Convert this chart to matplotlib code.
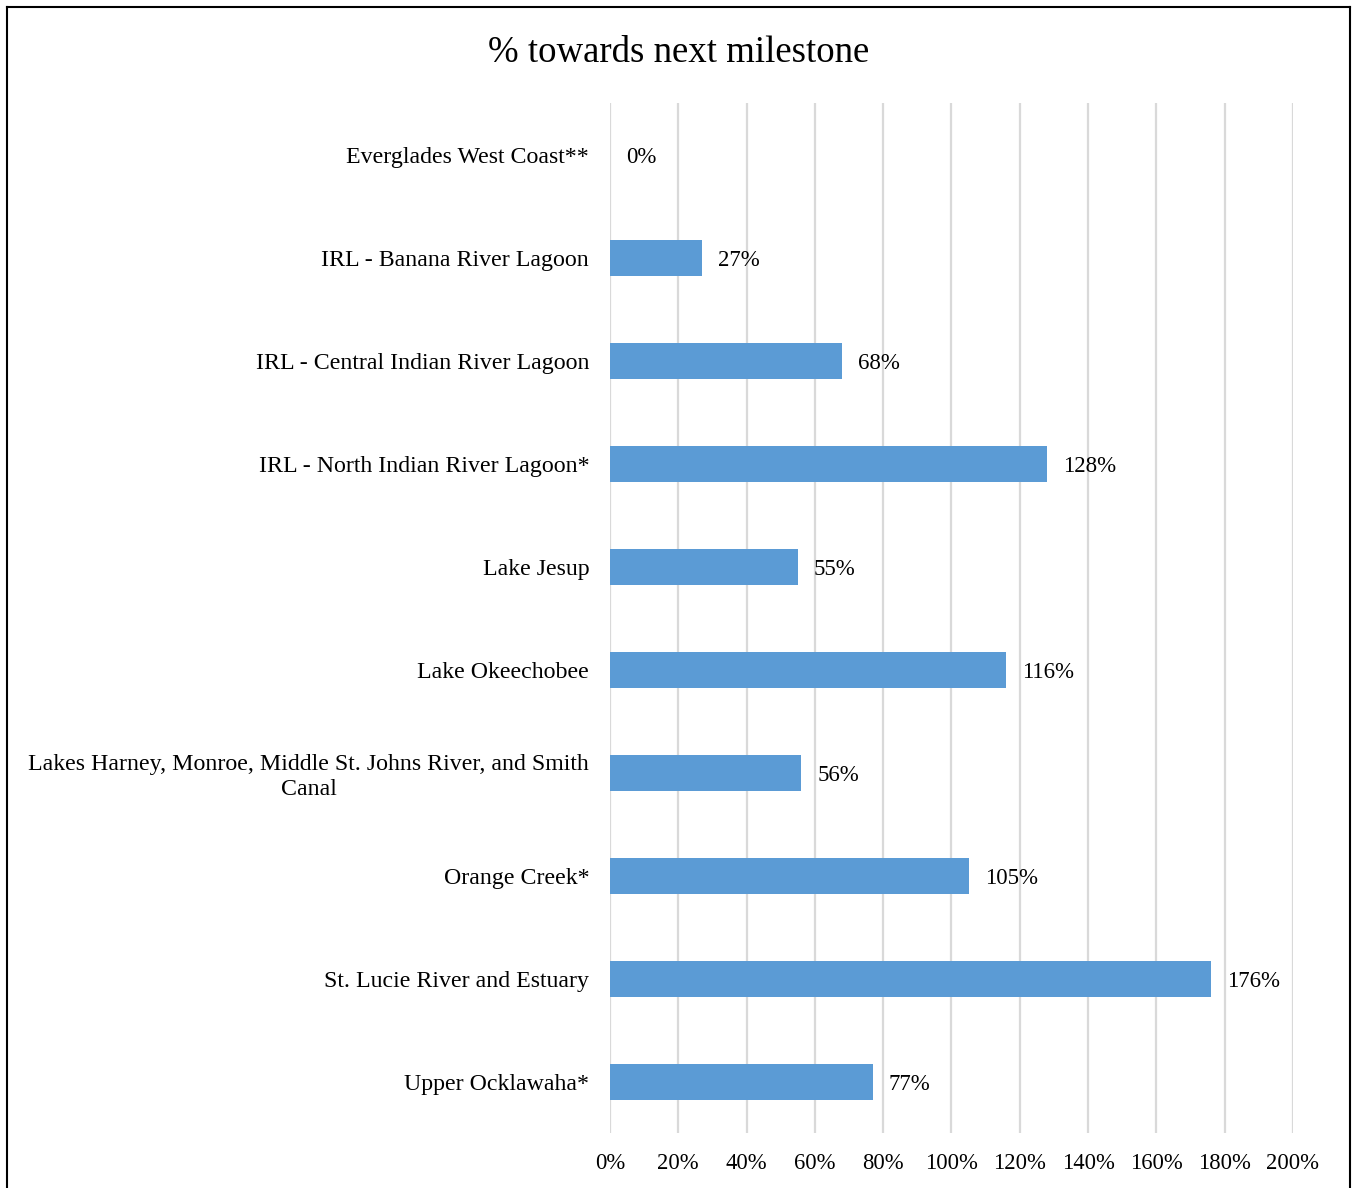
import matplotlib.pyplot as plt
from matplotlib.lines import Line2D
from matplotlib.ticker import FuncFormatter

categories = [
    'Everglades West Coast**',
    'IRL - Banana River Lagoon',
    'IRL - Central Indian River Lagoon',
    'IRL - North Indian River Lagoon*',
    'Lake Jesup',
    'Lake Okeechobee',
    'Lakes Harney, Monroe, Middle St. Johns River, and Smith\nCanal',
    'Orange Creek*',
    'St. Lucie River and Estuary',
    'Upper Ocklawaha*',
]
values = [0, 27, 68, 128, 55, 116, 56, 105, 176, 77]
xticks = [0, 20, 40, 60, 80, 100, 120, 140, 160, 180, 200]

plt.rcParams['font.family'] = ['Liberation Serif', 'DejaVu Serif']

fig = plt.figure(figsize=(13.57, 11.88), dpi=100)
ax = fig.add_axes([0.4495, 0.0459, 0.5033, 0.867])

pos = list(range(len(categories)))
ax.barh(pos, values, height=0.35, color='#5B9BD5', zorder=3)
ax.set_ylim(len(categories) - 0.5, -0.5)
ax.set_xlim(0, 200)
ax.set_xticks(xticks)
ax.xaxis.set_major_formatter(FuncFormatter(lambda v, p: f'{v:.0f}%'))
ax.set_yticks(pos)
ax.set_yticklabels(categories, multialignment='center', fontsize=17.2)
ax.tick_params(axis='both', length=0)
ax.tick_params(axis='x', labelsize=16.3, pad=14)
ax.tick_params(axis='y', pad=15)
ax.grid(axis='x', color='#D9D9D9', linewidth=1.6, zorder=0)
for s in ax.spines.values():
    s.set_visible(False)

for p, v in zip(pos, values):
    ax.text(v + 4.7, p, f'{v}%', va='center_baseline', ha='left', fontsize=16.5)

fig.text(0.5, 0.9555, '% towards next milestone', ha='center', va='center', fontsize=26.5)

# outer border
for xs, ys in [([0.0055, 0.0055], [0, 0.994]), ([0.0055, 0.9945], [0.994, 0.994]),
               ([0.9945, 0.9945], [0, 0.994])]:
    fig.add_artist(Line2D(xs, ys, color='black', linewidth=1.5, transform=fig.transFigure))

fig.savefig('out.png', dpi=100)
